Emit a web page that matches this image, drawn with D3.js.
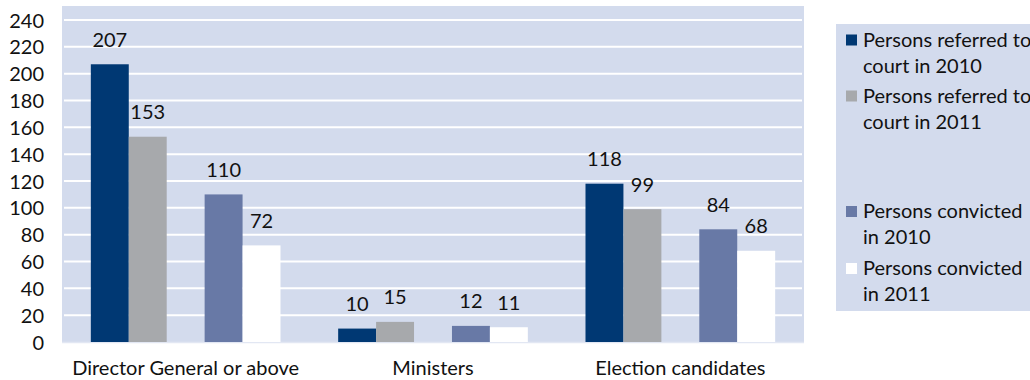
<!DOCTYPE html>
<html>
<head>
<meta charset="utf-8">
<script src="https://cdn.jsdelivr.net/npm/d3@7/dist/d3.min.js"></script>
<style>
  html, body { margin: 0; padding: 0; background: #ffffff; }
  svg { display: block; }
  text { font-family: Lato, "Open Sans", sans-serif; fill: #111; }
</style>
</head>
<body>
<svg id="chart" width="1030" height="380"></svg>
<script>
// ---- data ----
const categories = ["Director General or above", "Ministers", "Election candidates"];
const seriesNames = [
  "Persons referred to court in 2010",
  "Persons referred to court in 2011",
  "Persons convicted in 2010",
  "Persons convicted in 2011"
];
const legendLines = [
  ["Persons referred to", "court in 2010"],
  ["Persons referred to", "court in 2011"],
  ["Persons convicted", "in 2010"],
  ["Persons convicted", "in 2011"]
];
const referred2010 = [207, 10, 118];
const referred2011 = [153, 15, 99];
const convicted2010 = [110, 12, 84];
const convicted2011 = [72, 11, 68];
const yTickValues = [0, 20, 40, 60, 80, 100, 120, 140, 160, 180, 200, 220, 240];

// ---- styling ----
const seriesColors = ["#003873", "#A7A9AC", "#6879A6", "#FFFFFF"];
const seriesSlots = [0, 1, 3, 4];
const bgColor = "#D3DBED";
const fontSize = 20;

const allSeries = [referred2010, referred2011, convicted2010, convicted2011];

const svg = d3.select("#chart");

const plot = { left: 62, right: 804, top: 6, bottom: 343 };

const y = d3.scaleLinear().domain([0, 240]).range([342, 20]);
const x0 = d3.scaleBand().domain(categories).range([plot.left, plot.right]).padding(0);
const x1 = d3.scaleBand().domain(d3.range(5)).range([0, x0.bandwidth()])
  .paddingInner(0).paddingOuter(0.76);

// plot background
svg.append("rect")
  .attr("x", plot.left).attr("y", plot.top)
  .attr("width", plot.right - plot.left).attr("height", plot.bottom - plot.top)
  .attr("fill", bgColor);

// gridlines
svg.append("g").selectAll("line")
  .data(yTickValues.filter(v => v > 0))
  .join("line")
  .attr("x1", plot.left + 2).attr("x2", plot.right - 2)
  .attr("y1", d => y(d)).attr("y2", d => y(d))
  .attr("stroke", "#FFFFFF").attr("stroke-width", 2);

// baseline
svg.append("line")
  .attr("x1", plot.left).attr("x2", plot.right)
  .attr("y1", y(0) + 0.5).attr("y2", y(0) + 0.5)
  .attr("stroke", "#E2E7F3").attr("stroke-width", 1.5);

// bars
const rows = [];
allSeries.forEach((vals, si) => {
  vals.forEach((v, ci) => rows.push({ si, ci, v }));
});

svg.append("g").selectAll("rect")
  .data(rows)
  .join("rect")
  .attr("x", d => x0(categories[d.ci]) + x1(seriesSlots[d.si]))
  .attr("y", d => y(d.v))
  .attr("width", x1.bandwidth())
  .attr("height", d => y(0) - y(d.v))
  .attr("fill", d => seriesColors[d.si]);

// value labels
svg.append("g").selectAll("text")
  .data(rows)
  .join("text")
  .attr("x", d => x0(categories[d.ci]) + x1(seriesSlots[d.si]) + x1.bandwidth() / 2)
  .attr("y", d => y(d.v) - 17.5)
  .attr("text-anchor", "middle")
  .style("font-size", fontSize + "px")
  .text(d => d.v);

// y axis
const yAxis = d3.axisLeft(y).tickValues(yTickValues).tickSize(0).tickPadding(0);
const yg = svg.append("g").attr("transform", "translate(44,0)").call(yAxis);
yg.select(".domain").remove();
yg.selectAll("text")
  .style("font-size", fontSize + "px")
  .style("font-family", "Lato, 'Open Sans', sans-serif")
  .attr("fill", "#111")
  .attr("dy", "0.35em");

// x axis
const xAxis = d3.axisBottom(x0).tickSize(0).tickPadding(0);
const xg = svg.append("g").attr("transform", `translate(0,${y(0)})`).call(xAxis);
xg.select(".domain").remove();
xg.selectAll("text")
  .style("font-size", fontSize + "px")
  .style("font-family", "Lato, 'Open Sans', sans-serif")
  .attr("fill", "#111")
  .attr("dy", null)
  .attr("y", 33);

// legend
const legendBox = { x: 836, y: 24, w: 200, h: 287 };
svg.append("rect")
  .attr("x", legendBox.x).attr("y", legendBox.y)
  .attr("width", legendBox.w).attr("height", legendBox.h)
  .attr("fill", bgColor);

const legendBaselines = [46.5, 102.5, 218, 275];
const lineStep = 26;
const lg = svg.append("g").selectAll("g")
  .data(seriesNames)
  .join("g");

lg.append("rect")
  .attr("x", 846)
  .attr("y", (d, i) => legendBaselines[i] - 12)
  .attr("width", 11).attr("height", 11)
  .attr("fill", (d, i) => seriesColors[i]);

lg.each(function (d, i) {
  const t = d3.select(this).append("text")
    .attr("x", 863)
    .attr("y", legendBaselines[i])
    .style("font-size", fontSize + "px");
  legendLines[i].forEach((line, li) => {
    t.append("tspan")
      .attr("x", 863)
      .attr("y", legendBaselines[i] + li * lineStep)
      .text(line);
  });
});
</script>
</body>
</html>
